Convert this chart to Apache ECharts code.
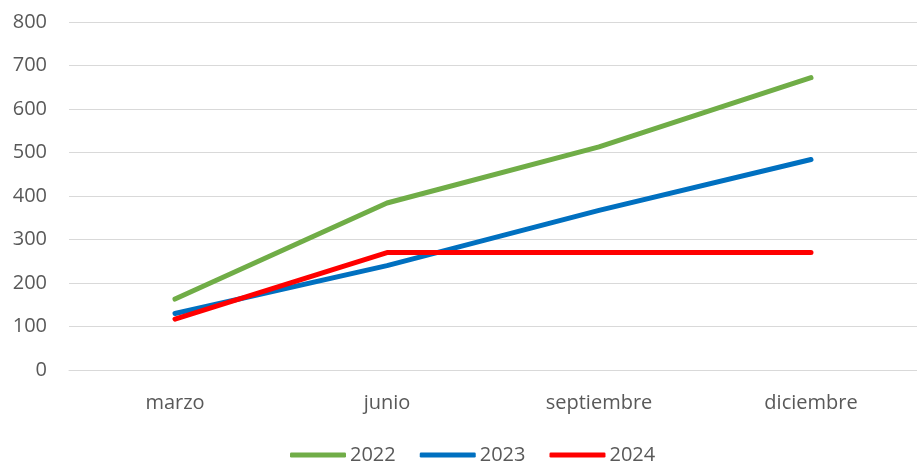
<!DOCTYPE html>
<html>
<head>
<meta charset="utf-8">
<script src="https://cdn.jsdelivr.net/npm/echarts@6/dist/echarts.min.js"></script>
<style>
html,body{margin:0;padding:0;background:#fff;}
#chart{width:917px;height:465px;}
</style>
</head>
<body>
<div id="chart"></div>
<script>
var categories = ["marzo", "junio", "septiembre", "diciembre"];
var seriesNames = ["2022", "2023", "2024"];
var values2022 = [163, 384, 513, 672];
var values2023 = [130, 240, 367, 484];
var values2024 = [117, 270, 270, 270];
var yTicks = [0, 100, 200, 300, 400, 500, 600, 700, 800];

var colors = ["#70AD47", "#0070C0", "#FF0000"];
var textColor = "#595959";
var font = "'Open Sans', sans-serif";

function mk(name, data, color) {
  return {
    name: name, type: "line", data: data, symbol: "none",
    lineStyle: { color: color, width: 5, cap: "round", join: "round" },
    itemStyle: { color: color }
  };
}

var chart = echarts.init(document.getElementById("chart"), null, { renderer: "canvas" });
chart.setOption({
  animation: false,
  color: colors,
  grid: { left: 69, right: 0, top: 22, bottom: 95, containLabel: false },
  legend: {
    data: seriesNames, top: 440, left: 285,
    icon: "roundRect", itemWidth: 56, itemHeight: 5, itemGap: 24,
    textStyle: { color: textColor, fontSize: 20, fontFamily: font, padding: [0, 0, 0, -1] }
  },
  xAxis: {
    type: "category", data: categories, boundaryGap: true,
    axisLine: { show: true, lineStyle: { color: "#D9D9D9", width: 1 } },
    axisTick: { show: false },
    axisLabel: { color: textColor, fontSize: 20, fontFamily: font, margin: 23 }
  },
  yAxis: {
    type: "value", min: yTicks[0], max: yTicks[yTicks.length - 1], interval: 100,
    axisLine: { show: false }, axisTick: { show: false },
    splitLine: { lineStyle: { color: "#D9D9D9", width: 1 } },
    axisLabel: { color: textColor, fontSize: 20, fontFamily: font, margin: 22 }
  },
  series: [
    mk(seriesNames[0], values2022, colors[0]),
    mk(seriesNames[1], values2023, colors[1]),
    mk(seriesNames[2], values2024, colors[2])
  ]
});
</script>
</body>
</html>
